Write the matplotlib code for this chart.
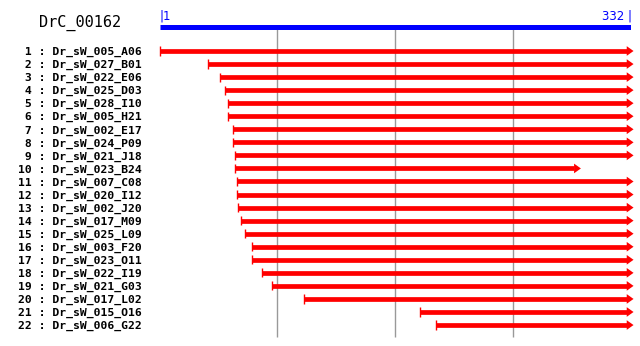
import matplotlib as mpl

mpl.use("Agg")

import matplotlib.pyplot as plt

title = "DrC_00162"
length = 332

names = [
    "Dr_sW_005_A06", "Dr_sW_027_B01", "Dr_sW_022_E06", "Dr_sW_025_D03",
    "Dr_sW_028_I10", "Dr_sW_005_H21", "Dr_sW_002_E17", "Dr_sW_024_P09",
    "Dr_sW_021_J18", "Dr_sW_023_B24", "Dr_sW_007_C08", "Dr_sW_020_I12",
    "Dr_sW_002_J20", "Dr_sW_017_M09", "Dr_sW_025_L09", "Dr_sW_003_F20",
    "Dr_sW_023_O11", "Dr_sW_022_I19", "Dr_sW_021_G03", "Dr_sW_017_L02",
    "Dr_sW_015_O16", "Dr_sW_006_G22",
]
starts = [1, 35, 43, 47, 49, 49, 52, 52, 54, 54, 55, 55,
          56, 58, 61, 66, 66, 73, 80, 102, 184, 195]
ends = [332, 332, 332, 332, 332, 332, 332, 332, 332, 295, 332, 332,
        332, 332, 332, 332, 332, 332, 332, 332, 332, 332]
grid_pos = [83, 166, 249]

red = "#ff0000"
blue = "#0000ff"

fig = plt.figure(figsize=(6.4, 3.46), dpi=100)
# axes: x 1..332 -> px 160..631, rows laid out 13 px apart
ax = fig.add_axes([160 / 640, 6 / 346, 471 / 640, 330 / 346])
ax.set_xlim(1, length)
ax.set_ylim(23.146, -2.142)
for s in ax.spines.values():
    s.set_visible(False)
ax.set_xticks([])

rows = list(range(1, len(names) + 1))
ref_y = -0.84

# grid lines
ax.vlines(grid_pos, ref_y + 0.15, 22.92, color="#999999", lw=1)

# reference bar
ax.hlines(ref_y, 1, length, color=blue, lw=3.6, capstyle="butt")
ax.text(0.6, -1.72, "|1", color=blue, fontsize=8.5, ha="left", va="center",
        family="DejaVu Sans")
ax.text(length + 0.8, -1.72, "332 |", color=blue, fontsize=8.5, ha="right",
        va="center", family="DejaVu Sans")

# clones
head_len = 4.8
head_h = 0.37
for r, s, e in zip(rows, starts, ends):
    ax.hlines(r, s, e - 3, color=red, lw=3.4, capstyle="butt", clip_on=False)
    ax.vlines(s, r - 0.35, r + 0.35, color=red, lw=1, clip_on=False)
    ax.fill([e - 3, e - 3, e - 3 + head_len], [r - head_h, r + head_h, r],
            color=red, lw=0, clip_on=False)

ax.set_yticks(rows)
ax.set_yticklabels([f"{i:>2} : {n}" for i, n in zip(rows, names)],
                   family="DejaVu Sans Mono", fontweight="bold", fontsize=8.2)
ax.tick_params(axis="y", length=0, pad=13)

fig.text(80 / 640, 1 - 23 / 346, title, family="DejaVu Sans Mono",
         fontsize=11, ha="center", va="center")

plt.savefig("out.png", dpi=100)
plt.close()
